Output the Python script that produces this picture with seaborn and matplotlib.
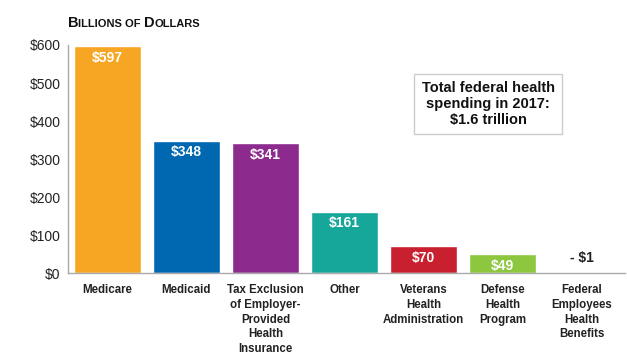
import matplotlib
matplotlib.use("Agg")
import matplotlib.pyplot as plt
import seaborn as sns
import pandas as pd
from matplotlib.offsetbox import TextArea, HPacker, AnchoredOffsetbox

categories = ["Medicare", "Medicaid", "Tax Exclusion\nof Employer-\nProvided\nHealth\nInsurance",
              "Other", "Veterans\nHealth\nAdministration", "Defense\nHealth\nProgram",
              "Federal\nEmployees\nHealth\nBenefits"]
values = [597, 348, 341, 161, 70, 49, 1]
value_labels = ["$597", "$348", "$341", "$161", "$70", "$49", "- $1"]
colors = ["#F6A623", "#0067B1", "#8C2A8D", "#17A79A", "#C8202F", "#8DC63F", "#FFFFFF"]
yticks = [0, 100, 200, 300, 400, 500, 600]

sns.set_style("white")
plt.rcParams['font.family'] = ['Liberation Sans', 'DejaVu Sans']

df = pd.DataFrame({"cat": categories, "val": values})

fig = plt.figure(figsize=(6.27, 3.57), dpi=100)
ax = fig.add_axes([0.108, 0.235, 0.889, 0.639])

sns.barplot(data=df, x="cat", y="val", hue="cat", palette=colors, legend=False,
            width=0.85, saturation=1, ax=ax)

ax.set_ylim(0, 600)
ax.set_xlim(-0.5, 6.55)
ax.set_yticks(yticks)
ax.set_yticklabels([f"${t}" for t in yticks], fontsize=10, color="#222222")
ax.set_xticks(range(len(categories)))
ax.set_xticklabels(categories, fontsize=8.3, fontweight="bold", color="#222222",
                   linespacing=1.3, va="top")
ax.tick_params(axis="both", length=0, pad=5)
ax.tick_params(axis="x", pad=8)
ax.set_xlabel("")
ax.set_ylabel("")

for side in ["top", "right"]:
    ax.spines[side].set_visible(False)
for side in ["left", "bottom"]:
    ax.spines[side].set_color("#AAAAAA")
    ax.spines[side].set_linewidth(1)

for i, (v, lab) in enumerate(zip(values, value_labels)):
    if v > 20:
        ax.text(i, v - 12, lab, ha="center", va="top", color="white",
                fontsize=10, fontweight="bold")
    else:
        ax.text(i, v + 20, lab, ha="center", va="bottom", color="#222222",
                fontsize=10, fontweight="bold")

# small-caps style title
parts = [("B", 10.5), ("ILLIONS OF ", 8), ("D", 10.5), ("OLLARS", 8)]
boxes = [TextArea(t, textprops=dict(fontsize=s, fontweight="bold", color="#111111"))
         for t, s in parts]
pack = HPacker(children=boxes, align="baseline", pad=0, sep=0)
title = AnchoredOffsetbox(loc="lower left", child=pack, pad=0, frameon=False,
                          bbox_to_anchor=(68 / 627, 1 - 30 / 357),
                          bbox_transform=fig.transFigure, borderpad=0)
fig.add_artist(title)

fig.text(488 / 627, 1 - 104 / 357,
         "Total federal health\nspending in 2017:\n$1.6 trillion",
         ha="center", va="center", fontsize=10.5, fontweight="bold", color="#111111",
         linespacing=1.15,
         bbox=dict(boxstyle="square,pad=0.5", facecolor="white", edgecolor="#CCCCCC"))

fig.savefig("out.png", dpi=100)
